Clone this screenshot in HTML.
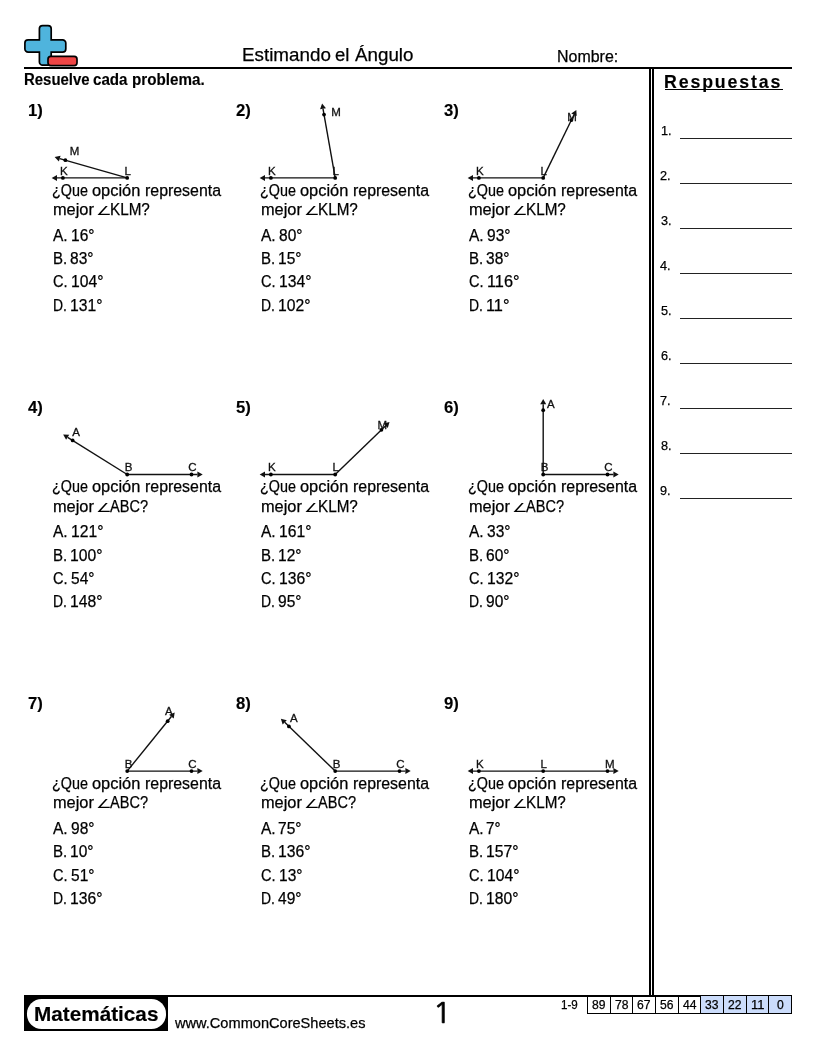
<!DOCTYPE html>
<html lang="es">
<head>
<meta charset="utf-8">
<title>Estimando el Ángulo</title>
<style>
html,body{margin:0;padding:0;background:#fff;}
body{width:816px;height:1056px;position:relative;overflow:hidden;font-family:"Liberation Sans",sans-serif;color:#000;}
.t{position:absolute;white-space:nowrap;line-height:1;font-weight:normal;-webkit-text-stroke:0.25px #000;transform-origin:0 0;margin:0;padding:0;display:block;}
.w{margin:0;padding:0;font-size:inherit;font-weight:normal;}
.b{-webkit-text-stroke:0;}
.r{position:absolute;background:#000;}
svg{position:absolute;left:0;top:0;overflow:visible;}
.ans{position:absolute;background:#222;height:1.35px;left:680.4px;width:111.6px;}
.box{position:absolute;top:996px;height:18px;border-left:1px solid #000;border-bottom:1px solid #000;box-sizing:border-box;}
.blue{background:#cbdcfb;}
.ang{font-family:"DejaVu Sans",sans-serif;font-size:13px;-webkit-text-stroke:0;transform:scale(1.35,0.96);transform-origin:0 11px;}
.pg{font-family:"NanumGothic","Liberation Sans",sans-serif;font-size:28.4px;transform:scaleX(1.1);transform-origin:3.7px 0;-webkit-text-stroke:0.7px #000;}
.lbl{font-size:11.5px;fill:#111;stroke:#111;stroke-width:0.3px;font-family:"Liberation Sans",sans-serif;}
</style>
</head>
<body>

<header>
<svg width="816" height="100" viewBox="0 0 816 100" aria-hidden="true">
<path d="M42.6 25.6h5.4a3.2 3.2 0 0 1 3.2 3.2v11.1h11.4a3.2 3.2 0 0 1 3.2 3.2v5.8a3.2 3.2 0 0 1 -3.2 3.2h-11.4v9.9a3.2 3.2 0 0 1 -3.2 3.2h-5.4a3.2 3.2 0 0 1 -3.2 -3.2v-9.9h-11.3a3.2 3.2 0 0 1 -3.2 -3.2v-5.8a3.2 3.2 0 0 1 3.2 -3.2h11.3v-11.1a3.2 3.2 0 0 1 3.2 -3.2z" fill="#4fb4dd" stroke="#000" stroke-width="1.7"/>
<rect x="48" y="56.4" width="29" height="9.2" rx="2.8" ry="2.8" fill="#ee4545" stroke="#000" stroke-width="1.7"/>
</svg>
<h1 class="w"><span class="t" style="left:241.85px;top:46.30px;font-size:18.67px;transform:scaleX(1.0080);">Estimando</span> <span class="t" style="left:335.45px;top:46.30px;font-size:18.67px;transform:scaleX(0.9937);">el</span> <span class="t" style="left:354.69px;top:46.30px;font-size:18.67px;transform:scaleX(1.0055);">Ángulo</span></h1>
<span class="t" style="left:557.01px;top:48.90px;font-size:16px;transform:scaleX(0.9973);">Nombre:</span>
<div class="r" style="left:24px;top:67px;width:768px;height:2px"></div>
</header>
<p class="w"><span class="t" style="left:24.02px;top:72.20px;font-size:16px;transform:scaleX(0.9334);font-weight:bold;-webkit-text-stroke:0.15px #000;">Resuelve</span> <span class="t" style="left:93.49px;top:72.20px;font-size:16px;transform:scaleX(0.9469);font-weight:bold;-webkit-text-stroke:0.15px #000;">cada</span> <span class="t" style="left:131.95px;top:72.20px;font-size:16px;transform:scaleX(0.9495);font-weight:bold;-webkit-text-stroke:0.15px #000;">problema.</span></p>
<section>
<span class="t" style="left:28.26px;top:102.90px;font-size:16px;transform:scaleX(1.0417);font-weight:bold;-webkit-text-stroke:0.15px #000;">1)</span>
<svg width="816" height="1056" viewBox="0 0 816 1056"><g stroke="#111" stroke-width="1.4" fill="#111"><line x1="127.20" y1="177.90" x2="57.00" y2="177.90"/><polygon stroke="none" points="51.70,177.90 57.00,174.90 57.00,180.90"/><line x1="127.20" y1="177.90" x2="59.72" y2="158.55"/><polygon stroke="none" points="54.62,157.09 60.55,155.67 58.89,161.43"/></g><g fill="#000"><circle cx="62.90" cy="177.90" r="1.9"/><circle cx="127.20" cy="177.90" r="1.9"/><circle cx="65.39" cy="160.18" r="1.9"/></g><text class="lbl" x="59.90" y="174.60">K</text><text class="lbl" x="124.60" y="174.60">L</text><text class="lbl" x="69.84" y="154.68">M</text></svg>
<p class="w"><span class="t" style="left:52.21px;top:182.70px;font-size:16px;transform:scaleX(0.8969);">¿Que</span> <span class="t" style="left:92.49px;top:182.70px;font-size:16px;transform:scaleX(1.0252);">opción</span> <span class="t" style="left:144.81px;top:182.70px;font-size:16px;transform:scaleX(0.9938);">representa</span></p>
<span class="t" style="left:52.60px;top:201.90px;font-size:16px;transform:scaleX(1.0221);">mejor</span>
<span class="t ang" style="left:96.21px;top:203.90px">∠</span>
<span class="t" style="left:109.97px;top:201.90px;font-size:16px;transform:scaleX(0.9519);">KLM?</span>
<span class="t" style="left:53.20px;top:227.80px;font-size:16px;transform:scaleX(0.9695);">A.</span>
<span class="t" style="left:70.78px;top:227.80px;font-size:16px;transform:scaleX(0.9696);">16°</span>
<span class="t" style="left:53.09px;top:251.10px;font-size:16px;transform:scaleX(0.9385);">B.</span>
<span class="t" style="left:70.36px;top:251.10px;font-size:16px;transform:scaleX(0.9696);">83°</span>
<span class="t" style="left:53.19px;top:274.40px;font-size:16px;transform:scaleX(0.9145);">C.</span>
<span class="t" style="left:70.74px;top:274.40px;font-size:16px;transform:scaleX(0.9806);">104°</span>
<span class="t" style="left:53.18px;top:297.70px;font-size:16px;transform:scaleX(0.8701);">D.</span>
<span class="t" style="left:70.03px;top:297.70px;font-size:16px;transform:scaleX(0.9806);">131°</span>
</section>
<section>
<span class="t" style="left:235.98px;top:102.90px;font-size:16px;transform:scaleX(1.0417);font-weight:bold;-webkit-text-stroke:0.15px #000;">2)</span>
<svg width="816" height="1056" viewBox="0 0 816 1056"><g stroke="#111" stroke-width="1.4" fill="#111"><line x1="335.20" y1="177.90" x2="265.00" y2="177.90"/><polygon stroke="none" points="259.70,177.90 265.00,174.90 265.00,180.90"/><line x1="335.20" y1="177.90" x2="323.01" y2="108.77"/><polygon stroke="none" points="322.09,103.55 325.96,108.25 320.06,109.29"/></g><g fill="#000"><circle cx="270.90" cy="177.90" r="1.9"/><circle cx="335.20" cy="177.90" r="1.9"/><circle cx="324.03" cy="114.58" r="1.9"/></g><text class="lbl" x="267.90" y="174.60">K</text><text class="lbl" x="332.60" y="174.60">L</text><text class="lbl" x="331.18" y="116.48">M</text></svg>
<p class="w"><span class="t" style="left:260.21px;top:182.70px;font-size:16px;transform:scaleX(0.8969);">¿Que</span> <span class="t" style="left:300.49px;top:182.70px;font-size:16px;transform:scaleX(1.0252);">opción</span> <span class="t" style="left:352.81px;top:182.70px;font-size:16px;transform:scaleX(0.9938);">representa</span></p>
<span class="t" style="left:260.60px;top:201.90px;font-size:16px;transform:scaleX(1.0221);">mejor</span>
<span class="t ang" style="left:304.21px;top:203.90px">∠</span>
<span class="t" style="left:317.97px;top:201.90px;font-size:16px;transform:scaleX(0.9519);">KLM?</span>
<span class="t" style="left:261.20px;top:227.80px;font-size:16px;transform:scaleX(0.9695);">A.</span>
<span class="t" style="left:278.83px;top:227.80px;font-size:16px;transform:scaleX(0.9696);">80°</span>
<span class="t" style="left:261.09px;top:251.10px;font-size:16px;transform:scaleX(0.9385);">B.</span>
<span class="t" style="left:278.31px;top:251.10px;font-size:16px;transform:scaleX(0.9696);">15°</span>
<span class="t" style="left:261.19px;top:274.40px;font-size:16px;transform:scaleX(0.9145);">C.</span>
<span class="t" style="left:278.74px;top:274.40px;font-size:16px;transform:scaleX(0.9806);">134°</span>
<span class="t" style="left:261.18px;top:297.70px;font-size:16px;transform:scaleX(0.8701);">D.</span>
<span class="t" style="left:278.03px;top:297.70px;font-size:16px;transform:scaleX(0.9806);">102°</span>
</section>
<section>
<span class="t" style="left:444.12px;top:102.90px;font-size:16px;transform:scaleX(1.0417);font-weight:bold;-webkit-text-stroke:0.15px #000;">3)</span>
<svg width="816" height="1056" viewBox="0 0 816 1056"><g stroke="#111" stroke-width="1.4" fill="#111"><line x1="543.20" y1="177.90" x2="473.00" y2="177.90"/><polygon stroke="none" points="467.70,177.90 473.00,174.90 473.00,180.90"/><line x1="543.20" y1="177.90" x2="573.97" y2="114.80"/><polygon stroke="none" points="576.30,110.04 576.67,116.12 571.28,113.49"/></g><g fill="#000"><circle cx="478.90" cy="177.90" r="1.9"/><circle cx="543.20" cy="177.90" r="1.9"/><circle cx="571.39" cy="120.11" r="1.9"/></g><text class="lbl" x="475.90" y="174.60">K</text><text class="lbl" x="540.60" y="174.60">L</text><text class="lbl" x="567.24" y="120.91">M</text></svg>
<p class="w"><span class="t" style="left:468.21px;top:182.70px;font-size:16px;transform:scaleX(0.8969);">¿Que</span> <span class="t" style="left:508.49px;top:182.70px;font-size:16px;transform:scaleX(1.0252);">opción</span> <span class="t" style="left:560.81px;top:182.70px;font-size:16px;transform:scaleX(0.9938);">representa</span></p>
<span class="t" style="left:468.60px;top:201.90px;font-size:16px;transform:scaleX(1.0221);">mejor</span>
<span class="t ang" style="left:512.21px;top:203.90px">∠</span>
<span class="t" style="left:525.97px;top:201.90px;font-size:16px;transform:scaleX(0.9519);">KLM?</span>
<span class="t" style="left:469.20px;top:227.80px;font-size:16px;transform:scaleX(0.9695);">A.</span>
<span class="t" style="left:486.68px;top:227.80px;font-size:16px;transform:scaleX(0.9696);">93°</span>
<span class="t" style="left:469.09px;top:251.10px;font-size:16px;transform:scaleX(0.9385);">B.</span>
<span class="t" style="left:486.31px;top:251.10px;font-size:16px;transform:scaleX(0.9696);">38°</span>
<span class="t" style="left:469.19px;top:274.40px;font-size:16px;transform:scaleX(0.9145);">C.</span>
<span class="t" style="left:486.70px;top:274.40px;font-size:16px;transform:scaleX(1.0171);">116°</span>
<span class="t" style="left:469.18px;top:297.70px;font-size:16px;transform:scaleX(0.8701);">D.</span>
<span class="t" style="left:485.98px;top:297.70px;font-size:16px;transform:scaleX(1.0197);">11°</span>
</section>
<section>
<span class="t" style="left:28.19px;top:399.50px;font-size:16px;transform:scaleX(1.0417);font-weight:bold;-webkit-text-stroke:0.15px #000;">4)</span>
<svg width="816" height="1056" viewBox="0 0 816 1056"><g stroke="#111" stroke-width="1.4" fill="#111"><line x1="127.20" y1="474.50" x2="197.40" y2="474.50"/><polygon stroke="none" points="202.70,474.50 197.40,477.50 197.40,471.50"/><line x1="127.20" y1="474.50" x2="67.67" y2="437.30"/><polygon stroke="none" points="63.17,434.49 69.26,434.76 66.08,439.84"/></g><g fill="#000"><circle cx="72.67" cy="440.43" r="1.9"/><circle cx="127.20" cy="474.50" r="1.9"/><circle cx="191.50" cy="474.50" r="1.9"/></g><text class="lbl" x="72.37" y="436.33">A</text><text class="lbl" x="124.70" y="471.20">B</text><text class="lbl" x="188.25" y="471.20">C</text></svg>
<p class="w"><span class="t" style="left:52.21px;top:479.30px;font-size:16px;transform:scaleX(0.8969);">¿Que</span> <span class="t" style="left:92.49px;top:479.30px;font-size:16px;transform:scaleX(1.0252);">opción</span> <span class="t" style="left:144.81px;top:479.30px;font-size:16px;transform:scaleX(0.9938);">representa</span></p>
<span class="t" style="left:52.60px;top:498.50px;font-size:16px;transform:scaleX(1.0221);">mejor</span>
<span class="t ang" style="left:96.21px;top:500.50px">∠</span>
<span class="t" style="left:110.10px;top:498.50px;font-size:16px;transform:scaleX(0.9087);">ABC?</span>
<span class="t" style="left:53.20px;top:524.40px;font-size:16px;transform:scaleX(0.9695);">A.</span>
<span class="t" style="left:70.77px;top:524.40px;font-size:16px;transform:scaleX(0.9806);">121°</span>
<span class="t" style="left:53.09px;top:547.70px;font-size:16px;transform:scaleX(0.9385);">B.</span>
<span class="t" style="left:70.30px;top:547.70px;font-size:16px;transform:scaleX(0.9806);">100°</span>
<span class="t" style="left:53.19px;top:571.00px;font-size:16px;transform:scaleX(0.9145);">C.</span>
<span class="t" style="left:71.18px;top:571.00px;font-size:16px;transform:scaleX(0.9696);">54°</span>
<span class="t" style="left:53.18px;top:594.30px;font-size:16px;transform:scaleX(0.8701);">D.</span>
<span class="t" style="left:70.03px;top:594.30px;font-size:16px;transform:scaleX(0.9806);">148°</span>
</section>
<section>
<span class="t" style="left:236.32px;top:399.50px;font-size:16px;transform:scaleX(1.0417);font-weight:bold;-webkit-text-stroke:0.15px #000;">5)</span>
<svg width="816" height="1056" viewBox="0 0 816 1056"><g stroke="#111" stroke-width="1.4" fill="#111"><line x1="335.20" y1="474.50" x2="265.00" y2="474.50"/><polygon stroke="none" points="259.70,474.50 265.00,471.50 265.00,477.50"/><line x1="335.20" y1="474.50" x2="385.70" y2="425.73"/><polygon stroke="none" points="389.51,422.05 387.78,427.89 383.61,423.58"/></g><g fill="#000"><circle cx="270.90" cy="474.50" r="1.9"/><circle cx="335.20" cy="474.50" r="1.9"/><circle cx="381.45" cy="429.83" r="1.9"/></g><text class="lbl" x="267.90" y="471.20">K</text><text class="lbl" x="332.60" y="471.20">L</text><text class="lbl" x="377.50" y="429.43">M</text></svg>
<p class="w"><span class="t" style="left:260.21px;top:479.30px;font-size:16px;transform:scaleX(0.8969);">¿Que</span> <span class="t" style="left:300.49px;top:479.30px;font-size:16px;transform:scaleX(1.0252);">opción</span> <span class="t" style="left:352.81px;top:479.30px;font-size:16px;transform:scaleX(0.9938);">representa</span></p>
<span class="t" style="left:260.60px;top:498.50px;font-size:16px;transform:scaleX(1.0221);">mejor</span>
<span class="t ang" style="left:304.21px;top:500.50px">∠</span>
<span class="t" style="left:317.97px;top:498.50px;font-size:16px;transform:scaleX(0.9519);">KLM?</span>
<span class="t" style="left:261.20px;top:524.40px;font-size:16px;transform:scaleX(0.9695);">A.</span>
<span class="t" style="left:278.77px;top:524.40px;font-size:16px;transform:scaleX(0.9806);">161°</span>
<span class="t" style="left:261.09px;top:547.70px;font-size:16px;transform:scaleX(0.9385);">B.</span>
<span class="t" style="left:278.31px;top:547.70px;font-size:16px;transform:scaleX(0.9696);">12°</span>
<span class="t" style="left:261.19px;top:571.00px;font-size:16px;transform:scaleX(0.9145);">C.</span>
<span class="t" style="left:278.74px;top:571.00px;font-size:16px;transform:scaleX(0.9806);">136°</span>
<span class="t" style="left:261.18px;top:594.30px;font-size:16px;transform:scaleX(0.8701);">D.</span>
<span class="t" style="left:277.94px;top:594.30px;font-size:16px;transform:scaleX(0.9696);">95°</span>
</section>
<section>
<span class="t" style="left:444.18px;top:399.50px;font-size:16px;transform:scaleX(1.0417);font-weight:bold;-webkit-text-stroke:0.15px #000;">6)</span>
<svg width="816" height="1056" viewBox="0 0 816 1056"><g stroke="#111" stroke-width="1.4" fill="#111"><line x1="543.20" y1="474.50" x2="613.40" y2="474.50"/><polygon stroke="none" points="618.70,474.50 613.40,477.50 613.40,471.50"/><line x1="543.20" y1="474.50" x2="543.20" y2="404.30"/><polygon stroke="none" points="543.20,399.00 546.20,404.30 540.20,404.30"/></g><g fill="#000"><circle cx="543.20" cy="410.20" r="1.9"/><circle cx="543.20" cy="474.50" r="1.9"/><circle cx="607.50" cy="474.50" r="1.9"/></g><text class="lbl" x="546.90" y="408.00">A</text><text class="lbl" x="540.70" y="471.20">B</text><text class="lbl" x="604.25" y="471.20">C</text></svg>
<p class="w"><span class="t" style="left:468.21px;top:479.30px;font-size:16px;transform:scaleX(0.8969);">¿Que</span> <span class="t" style="left:508.49px;top:479.30px;font-size:16px;transform:scaleX(1.0252);">opción</span> <span class="t" style="left:560.81px;top:479.30px;font-size:16px;transform:scaleX(0.9938);">representa</span></p>
<span class="t" style="left:468.60px;top:498.50px;font-size:16px;transform:scaleX(1.0221);">mejor</span>
<span class="t ang" style="left:512.21px;top:500.50px">∠</span>
<span class="t" style="left:526.10px;top:498.50px;font-size:16px;transform:scaleX(0.9087);">ABC?</span>
<span class="t" style="left:469.20px;top:524.40px;font-size:16px;transform:scaleX(0.9695);">A.</span>
<span class="t" style="left:486.78px;top:524.40px;font-size:16px;transform:scaleX(0.9696);">33°</span>
<span class="t" style="left:469.09px;top:547.70px;font-size:16px;transform:scaleX(0.9385);">B.</span>
<span class="t" style="left:486.41px;top:547.70px;font-size:16px;transform:scaleX(0.9696);">60°</span>
<span class="t" style="left:469.19px;top:571.00px;font-size:16px;transform:scaleX(0.9145);">C.</span>
<span class="t" style="left:486.74px;top:571.00px;font-size:16px;transform:scaleX(0.9806);">132°</span>
<span class="t" style="left:469.18px;top:594.30px;font-size:16px;transform:scaleX(0.8701);">D.</span>
<span class="t" style="left:485.94px;top:594.30px;font-size:16px;transform:scaleX(0.9696);">90°</span>
</section>
<section>
<span class="t" style="left:27.76px;top:696.10px;font-size:16px;transform:scaleX(1.0417);font-weight:bold;-webkit-text-stroke:0.15px #000;">7)</span>
<svg width="816" height="1056" viewBox="0 0 816 1056"><g stroke="#111" stroke-width="1.4" fill="#111"><line x1="127.20" y1="771.10" x2="197.40" y2="771.10"/><polygon stroke="none" points="202.70,771.10 197.40,774.10 197.40,768.10"/><line x1="127.20" y1="771.10" x2="171.38" y2="716.54"/><polygon stroke="none" points="174.71,712.43 173.71,718.43 169.05,714.66"/></g><g fill="#000"><circle cx="167.67" cy="721.13" r="1.9"/><circle cx="127.20" cy="771.10" r="1.9"/><circle cx="191.50" cy="771.10" r="1.9"/></g><text class="lbl" x="165.07" y="714.73">A</text><text class="lbl" x="124.70" y="767.80">B</text><text class="lbl" x="188.25" y="767.80">C</text></svg>
<p class="w"><span class="t" style="left:52.21px;top:775.90px;font-size:16px;transform:scaleX(0.8969);">¿Que</span> <span class="t" style="left:92.49px;top:775.90px;font-size:16px;transform:scaleX(1.0252);">opción</span> <span class="t" style="left:144.81px;top:775.90px;font-size:16px;transform:scaleX(0.9938);">representa</span></p>
<span class="t" style="left:52.60px;top:795.10px;font-size:16px;transform:scaleX(1.0221);">mejor</span>
<span class="t ang" style="left:96.21px;top:797.10px">∠</span>
<span class="t" style="left:110.10px;top:795.10px;font-size:16px;transform:scaleX(0.9087);">ABC?</span>
<span class="t" style="left:53.20px;top:821.00px;font-size:16px;transform:scaleX(0.9695);">A.</span>
<span class="t" style="left:70.68px;top:821.00px;font-size:16px;transform:scaleX(0.9696);">98°</span>
<span class="t" style="left:53.09px;top:844.30px;font-size:16px;transform:scaleX(0.9385);">B.</span>
<span class="t" style="left:70.31px;top:844.30px;font-size:16px;transform:scaleX(0.9696);">10°</span>
<span class="t" style="left:53.19px;top:867.60px;font-size:16px;transform:scaleX(0.9145);">C.</span>
<span class="t" style="left:71.18px;top:867.60px;font-size:16px;transform:scaleX(0.9696);">51°</span>
<span class="t" style="left:53.18px;top:890.90px;font-size:16px;transform:scaleX(0.8701);">D.</span>
<span class="t" style="left:70.03px;top:890.90px;font-size:16px;transform:scaleX(0.9806);">136°</span>
</section>
<section>
<span class="t" style="left:236.21px;top:696.10px;font-size:16px;transform:scaleX(1.0417);font-weight:bold;-webkit-text-stroke:0.15px #000;">8)</span>
<svg width="816" height="1056" viewBox="0 0 816 1056"><g stroke="#111" stroke-width="1.4" fill="#111"><line x1="335.20" y1="771.10" x2="405.40" y2="771.10"/><polygon stroke="none" points="410.70,771.10 405.40,774.10 405.40,768.10"/><line x1="335.20" y1="771.10" x2="284.70" y2="722.33"/><polygon stroke="none" points="280.89,718.65 286.79,720.18 282.62,724.49"/></g><g fill="#000"><circle cx="288.95" cy="726.43" r="1.9"/><circle cx="335.20" cy="771.10" r="1.9"/><circle cx="399.50" cy="771.10" r="1.9"/></g><text class="lbl" x="290.05" y="722.03">A</text><text class="lbl" x="332.70" y="767.80">B</text><text class="lbl" x="396.25" y="767.80">C</text></svg>
<p class="w"><span class="t" style="left:260.21px;top:775.90px;font-size:16px;transform:scaleX(0.8969);">¿Que</span> <span class="t" style="left:300.49px;top:775.90px;font-size:16px;transform:scaleX(1.0252);">opción</span> <span class="t" style="left:352.81px;top:775.90px;font-size:16px;transform:scaleX(0.9938);">representa</span></p>
<span class="t" style="left:260.60px;top:795.10px;font-size:16px;transform:scaleX(1.0221);">mejor</span>
<span class="t ang" style="left:304.21px;top:797.10px">∠</span>
<span class="t" style="left:318.10px;top:795.10px;font-size:16px;transform:scaleX(0.9087);">ABC?</span>
<span class="t" style="left:261.20px;top:821.00px;font-size:16px;transform:scaleX(0.9695);">A.</span>
<span class="t" style="left:278.44px;top:821.00px;font-size:16px;transform:scaleX(0.9696);">75°</span>
<span class="t" style="left:261.09px;top:844.30px;font-size:16px;transform:scaleX(0.9385);">B.</span>
<span class="t" style="left:278.30px;top:844.30px;font-size:16px;transform:scaleX(0.9806);">136°</span>
<span class="t" style="left:261.19px;top:867.60px;font-size:16px;transform:scaleX(0.9145);">C.</span>
<span class="t" style="left:278.76px;top:867.60px;font-size:16px;transform:scaleX(0.9696);">13°</span>
<span class="t" style="left:261.18px;top:890.90px;font-size:16px;transform:scaleX(0.8701);">D.</span>
<span class="t" style="left:277.95px;top:890.90px;font-size:16px;transform:scaleX(0.9696);">49°</span>
</section>
<section>
<span class="t" style="left:444.10px;top:696.10px;font-size:16px;transform:scaleX(1.0417);font-weight:bold;-webkit-text-stroke:0.15px #000;">9)</span>
<svg width="816" height="1056" viewBox="0 0 816 1056"><g stroke="#111" stroke-width="1.4" fill="#111"><line x1="543.20" y1="771.10" x2="473.00" y2="771.10"/><polygon stroke="none" points="467.70,771.10 473.00,768.10 473.00,774.10"/><line x1="543.20" y1="771.10" x2="613.40" y2="771.10"/><polygon stroke="none" points="618.70,771.10 613.40,774.10 613.40,768.10"/></g><g fill="#000"><circle cx="478.90" cy="771.10" r="1.9"/><circle cx="543.20" cy="771.10" r="1.9"/><circle cx="607.50" cy="771.10" r="1.9"/></g><text class="lbl" x="475.90" y="767.80">K</text><text class="lbl" x="540.60" y="767.80">L</text><text class="lbl" x="604.95" y="767.90">M</text></svg>
<p class="w"><span class="t" style="left:468.21px;top:775.90px;font-size:16px;transform:scaleX(0.8969);">¿Que</span> <span class="t" style="left:508.49px;top:775.90px;font-size:16px;transform:scaleX(1.0252);">opción</span> <span class="t" style="left:560.81px;top:775.90px;font-size:16px;transform:scaleX(0.9938);">representa</span></p>
<span class="t" style="left:468.60px;top:795.10px;font-size:16px;transform:scaleX(1.0221);">mejor</span>
<span class="t ang" style="left:512.21px;top:797.10px">∠</span>
<span class="t" style="left:525.97px;top:795.10px;font-size:16px;transform:scaleX(0.9519);">KLM?</span>
<span class="t" style="left:469.20px;top:821.00px;font-size:16px;transform:scaleX(0.9695);">A.</span>
<span class="t" style="left:486.46px;top:821.00px;font-size:16px;transform:scaleX(0.9459);">7°</span>
<span class="t" style="left:469.09px;top:844.30px;font-size:16px;transform:scaleX(0.9385);">B.</span>
<span class="t" style="left:486.30px;top:844.30px;font-size:16px;transform:scaleX(0.9806);">157°</span>
<span class="t" style="left:469.19px;top:867.60px;font-size:16px;transform:scaleX(0.9145);">C.</span>
<span class="t" style="left:486.74px;top:867.60px;font-size:16px;transform:scaleX(0.9806);">104°</span>
<span class="t" style="left:469.18px;top:890.90px;font-size:16px;transform:scaleX(0.8701);">D.</span>
<span class="t" style="left:486.03px;top:890.90px;font-size:16px;transform:scaleX(0.9806);">180°</span>
</section>
<aside>
<div class="r" style="left:649px;top:68px;width:2px;height:927px"></div>
<div class="r" style="left:652.4px;top:68px;width:1.8px;height:927px"></div>
<h2 class="t" style="left:664.00px;top:71.80px;font-size:19px;transform:scaleX(0.9333);font-weight:bold;-webkit-text-stroke:0.15px #000;letter-spacing:2.0px;">Respuestas</h2>
<div class="r" style="left:664.6px;top:89.1px;width:118px;height:1.1px"></div>
<span class="t" style="left:660.50px;top:124.00px;font-size:13px;transform:scaleX(0.9748);">1.</span>
<div class="ans" style="top:137.95px"></div>
<span class="t" style="left:660.35px;top:169.00px;font-size:13px;transform:scaleX(0.9748);">2.</span>
<div class="ans" style="top:182.95px"></div>
<span class="t" style="left:660.51px;top:214.00px;font-size:13px;transform:scaleX(0.9748);">3.</span>
<div class="ans" style="top:227.95px"></div>
<span class="t" style="left:660.44px;top:259.00px;font-size:13px;transform:scaleX(0.9748);">4.</span>
<div class="ans" style="top:272.95px"></div>
<span class="t" style="left:660.86px;top:304.00px;font-size:13px;transform:scaleX(0.9748);">5.</span>
<div class="ans" style="top:317.95px"></div>
<span class="t" style="left:660.59px;top:349.00px;font-size:13px;transform:scaleX(0.9748);">6.</span>
<div class="ans" style="top:362.95px"></div>
<span class="t" style="left:660.24px;top:394.00px;font-size:13px;transform:scaleX(0.9748);">7.</span>
<div class="ans" style="top:407.95px"></div>
<span class="t" style="left:660.55px;top:439.00px;font-size:13px;transform:scaleX(0.9748);">8.</span>
<div class="ans" style="top:452.95px"></div>
<span class="t" style="left:660.43px;top:484.00px;font-size:13px;transform:scaleX(0.9748);">9.</span>
<div class="ans" style="top:497.95px"></div>
</aside>
<footer>
<div class="r" style="left:24px;top:994.7px;width:768px;height:2px"></div>
<div class="r" style="left:24px;top:995px;width:144px;height:36px"></div>
<div style="position:absolute;left:27px;top:999.4px;width:138.6px;height:29.2px;border-radius:14.6px;background:#fff"></div>
<span class="t" style="left:33.76px;top:1003.00px;font-size:21px;transform:scaleX(0.9869);font-weight:bold;-webkit-text-stroke:0.15px #000;">Matemáticas</span>
<span class="t" style="left:175.13px;top:1015.60px;font-size:14.67px;transform:scaleX(0.9950);">www.CommonCoreSheets.es</span>
<span class="t pg" style="left:433.4px;top:999.4px">1</span>
<span class="t" style="left:560.62px;top:998.90px;font-size:12px;transform:scaleX(0.9689);">1-9</span>
<div class="box" style="left:587.00px;width:22.68px;"></div>
<span class="t" style="left:592.09px;top:998.90px;font-size:12px;transform:scaleX(1.0105);">89</span>
<div class="box" style="left:609.68px;width:22.68px;"></div>
<span class="t" style="left:614.77px;top:998.90px;font-size:12px;transform:scaleX(1.0105);">78</span>
<div class="box" style="left:632.36px;width:22.68px;"></div>
<span class="t" style="left:637.45px;top:998.90px;font-size:12px;transform:scaleX(1.0105);">67</span>
<div class="box" style="left:655.03px;width:22.68px;"></div>
<span class="t" style="left:660.13px;top:998.90px;font-size:12px;transform:scaleX(1.0105);">56</span>
<div class="box" style="left:677.71px;width:22.68px;"></div>
<span class="t" style="left:682.81px;top:998.90px;font-size:12px;transform:scaleX(1.0105);">44</span>
<div class="box blue" style="left:700.39px;width:22.68px;"></div>
<span class="t" style="left:705.48px;top:998.90px;font-size:12px;transform:scaleX(1.0105);">33</span>
<div class="box blue" style="left:723.07px;width:22.68px;"></div>
<span class="t" style="left:728.16px;top:998.90px;font-size:12px;transform:scaleX(1.0105);">22</span>
<div class="box blue" style="left:745.74px;width:22.68px;"></div>
<span class="t" style="left:750.84px;top:998.90px;font-size:12px;transform:scaleX(1.0828);">11</span>
<div class="box blue" style="left:768.42px;width:23.68px;border-right:1px solid #000;"></div>
<span class="t" style="left:776.89px;top:998.90px;font-size:12px;transform:scaleX(1.0105);">0</span>
</footer>
</body>
</html>
